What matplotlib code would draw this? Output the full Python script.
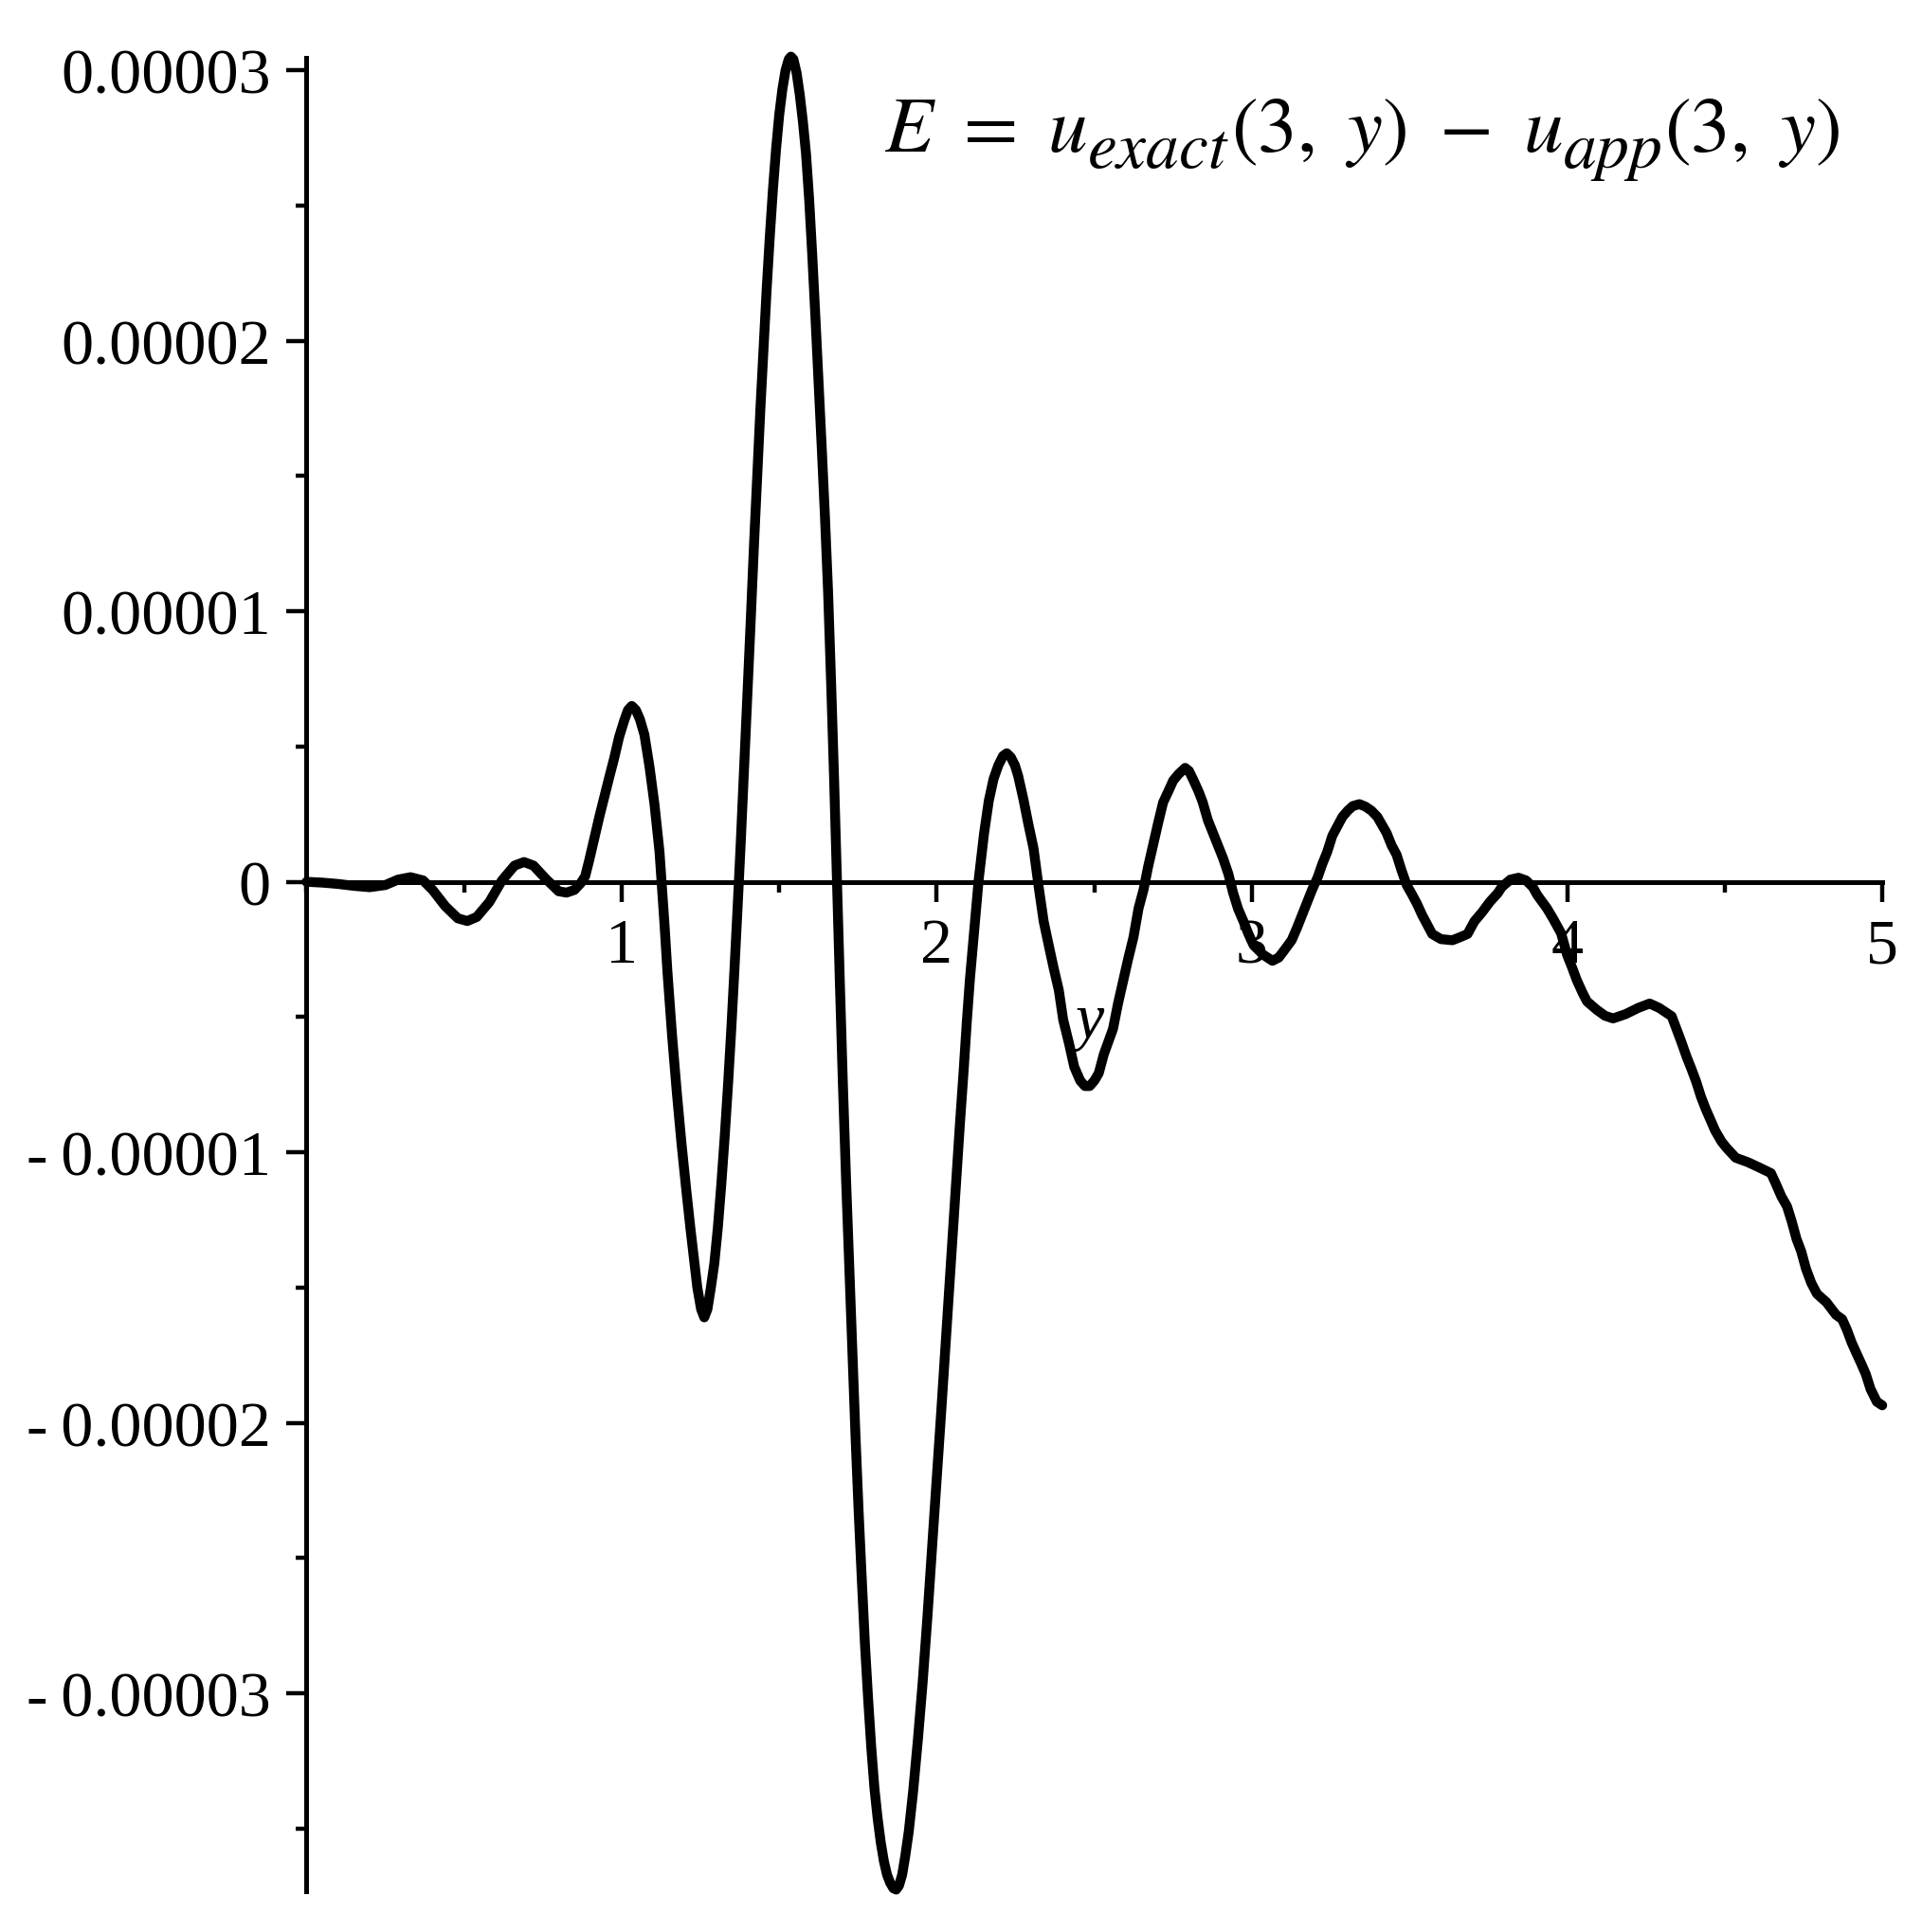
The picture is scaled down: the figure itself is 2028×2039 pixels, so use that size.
import numpy as np
import matplotlib
matplotlib.use('Agg')
import matplotlib.pyplot as plt
from matplotlib.ticker import FixedLocator, FixedFormatter, MultipleLocator

# Du lieu doc tu hinh: y va sai so E (don vi 1e-5)
y_vals = [0.00, 0.05, 0.10, 0.15, 0.20, 0.25, 0.29, 0.33, 0.37, 0.40,
          0.44, 0.48, 0.51, 0.54, 0.58, 0.62, 0.66, 0.69, 0.72, 0.76,
          0.80, 0.825, 0.85, 0.87, 0.884, 0.897, 0.913, 0.929, 0.944, 0.960,
          0.976, 0.992, 1.008, 1.020, 1.032, 1.045, 1.058, 1.072, 1.088, 1.104,
          1.120, 1.136, 1.145, 1.160, 1.175, 1.190, 1.205, 1.218, 1.231, 1.240,
          1.252, 1.262, 1.272, 1.283, 1.294, 1.305, 1.316, 1.327, 1.338, 1.348,
          1.358, 1.368, 1.378, 1.390, 1.400, 1.410, 1.420, 1.430, 1.440, 1.450,
          1.460, 1.470, 1.480, 1.490, 1.500, 1.510, 1.520, 1.530, 1.537, 1.545,
          1.555, 1.565, 1.575, 1.585, 1.595, 1.605, 1.615, 1.625, 1.635, 1.645,
          1.655, 1.665, 1.674, 1.682, 1.692, 1.702, 1.712, 1.722, 1.732, 1.742,
          1.752, 1.762, 1.772, 1.782, 1.792, 1.802, 1.812, 1.822, 1.832, 1.842,
          1.852, 1.862, 1.871, 1.880, 1.890, 1.900, 1.911, 1.925, 1.940, 1.955,
          1.970, 1.985, 2.000, 2.015, 2.030, 2.045, 2.060, 2.073, 2.085, 2.095,
          2.105, 2.117, 2.133, 2.150, 2.165, 2.180, 2.195, 2.210, 2.222, 2.235,
          2.248, 2.258, 2.275, 2.290, 2.307, 2.323, 2.339, 2.355, 2.371, 2.387,
          2.401, 2.420, 2.436, 2.455, 2.470, 2.485, 2.500, 2.514, 2.530, 2.559,
          2.575, 2.591, 2.607, 2.624, 2.640, 2.656, 2.670, 2.686, 2.702, 2.718,
          2.734, 2.750, 2.767, 2.788, 2.800, 2.815, 2.831, 2.844, 2.860, 2.876,
          2.892, 2.908, 2.925, 2.940, 2.956, 2.973, 2.989, 3.005, 3.035, 3.065,
          3.085, 3.100, 3.126, 3.143, 3.159, 3.175, 3.191, 3.209, 3.223, 3.239,
          3.255, 3.271, 3.287, 3.304, 3.320, 3.341, 3.360, 3.379, 3.398, 3.427,
          3.443, 3.459, 3.475, 3.491, 3.508, 3.524, 3.540, 3.556, 3.572, 3.600,
          3.636, 3.660, 3.684, 3.706, 3.730, 3.755, 3.780, 3.793, 3.820, 3.846,
          3.870, 3.891, 3.906, 3.936, 3.956, 3.981, 4.000, 4.016, 4.031, 4.049,
          4.063, 4.094, 4.120, 4.146, 4.186, 4.226, 4.262, 4.292, 4.332, 4.347,
          4.362, 4.379, 4.395, 4.410, 4.425, 4.440, 4.455, 4.470, 4.490, 4.505,
          4.535, 4.575, 4.617, 4.647, 4.662, 4.680, 4.698, 4.713, 4.728, 4.743,
          4.758, 4.775, 4.793, 4.823, 4.853, 4.873, 4.888, 4.903, 4.918, 4.933,
          4.948, 4.963, 4.983, 5.000]
E_vals = [0.000, -0.003, -0.008, -0.015, -0.020, -0.012, 0.008, 0.017, 0.005, -0.030,
          -0.090, -0.135, -0.145, -0.130, -0.075, 0.005, 0.060, 0.073, 0.060, 0.010,
          -0.035, -0.040, -0.030, -0.005, 0.020, 0.080, 0.160, 0.240, 0.310, 0.384,
          0.456, 0.536, 0.596, 0.635, 0.650, 0.635, 0.600, 0.544, 0.427, 0.287,
          0.111, -0.160, -0.330, -0.570, -0.780, -0.970, -1.140, -1.280, -1.410, -1.500,
          -1.580, -1.610, -1.580, -1.500, -1.410, -1.280, -1.120, -0.940, -0.740, -0.540,
          -0.320, -0.090, 0.150, 0.460, 0.720, 0.980, 1.250, 1.500, 1.745, 1.970,
          2.190, 2.385, 2.560, 2.710, 2.836, 2.930, 3.000, 3.040, 3.050, 3.040,
          2.990, 2.910, 2.810, 2.690, 2.520, 2.310, 2.080, 1.840, 1.600, 1.350,
          1.070, 0.720, 0.380, 0.050, -0.360, -0.750, -1.100, -1.420, -1.750, -2.050,
          -2.330, -2.580, -2.820, -3.020, -3.200, -3.350, -3.460, -3.550, -3.620, -3.670,
          -3.700, -3.720, -3.725, -3.710, -3.670, -3.600, -3.510, -3.360, -3.170, -2.960,
          -2.720, -2.460, -2.200, -1.940, -1.670, -1.400, -1.130, -0.900, -0.700, -0.520,
          -0.360, -0.200, 0.010, 0.180, 0.300, 0.380, 0.430, 0.465, 0.475, 0.460,
          0.430, 0.392, 0.304, 0.216, 0.123, -0.017, -0.146, -0.234, -0.320, -0.400,
          -0.510, -0.600, -0.684, -0.735, -0.755, -0.755, -0.735, -0.707, -0.637, -0.544,
          -0.450, -0.368, -0.286, -0.205, -0.099, -0.029, 0.053, 0.135, 0.216, 0.293,
          0.333, 0.374, 0.398, 0.421, 0.410, 0.374, 0.333, 0.293, 0.228, 0.181,
          0.135, 0.088, 0.030, -0.040, -0.100, -0.146, -0.193, -0.234, -0.269, -0.292,
          -0.280, -0.257, -0.216, -0.170, -0.123, -0.076, -0.029, 0.018, 0.065, 0.111,
          0.170, 0.205, 0.240, 0.263, 0.280, 0.287, 0.278, 0.263, 0.240, 0.181,
          0.135, 0.100, 0.041, -0.012, -0.047, -0.082, -0.123, -0.158, -0.193, -0.212,
          -0.216, -0.205, -0.193, -0.146, -0.113, -0.074, -0.042, -0.019, 0.008, 0.015,
          0.005, -0.019, -0.050, -0.098, -0.137, -0.190, -0.270, -0.317, -0.364, -0.410,
          -0.442, -0.473, -0.495, -0.505, -0.489, -0.466, -0.450, -0.466, -0.497, -0.544,
          -0.590, -0.646, -0.693, -0.740, -0.795, -0.840, -0.880, -0.920, -0.960, -0.982,
          -1.020, -1.037, -1.060, -1.077, -1.115, -1.163, -1.200, -1.256, -1.320, -1.366,
          -1.430, -1.483, -1.523, -1.554, -1.600, -1.617, -1.656, -1.703, -1.742, -1.780,
          -1.820, -1.875, -1.922, -1.935]

xtick_vals = [1, 2, 3, 4, 5]
xtick_labels = ['1', '2', '3', '4', '5']
ytick_vals = [-3e-5, -2e-5, -1e-5, 0, 1e-5, 2e-5, 3e-5]
ytick_labels = ['-\u20090.00003', '-\u20090.00002', '-\u20090.00001', '0',
                '0.00001', '0.00002', '0.00003']

# cong thuc: (chuoi, co chu, chi so duoi?)
formula_parts = [(r'$E\,\,=\,\,u$', 60, False),
                 (r'$exact$', 50, True),
                 (r'$(3,\ y)\,\,-\,\,u$', 60, False),
                 (r'$app$', 50, True),
                 (r'$(3,\ y)$', 60, False)]

E = np.array(E_vals) * 1e-5

plt.rcParams['mathtext.fontset'] = 'stix'
serif = ['Liberation Serif', 'DejaVu Serif']

# Ve bieu do
fig = plt.figure(figsize=(20.28, 20.40), dpi=100)
ax = fig.add_axes([0.1595, 0.0211, 0.8198, 0.9487])
ax.plot(y_vals, E, color='black', linewidth=7.5, clip_on=False,
        solid_joinstyle='round', solid_capstyle='round', zorder=3)

ax.set_xlim(0, 5)
ax.set_ylim(-3.731e-5, 3.047e-5)

# truc kieu Maple: truc x di qua 0
ax.spines['top'].set_visible(False)
ax.spines['right'].set_visible(False)
ax.spines['bottom'].set_position(('data', 0))
ax.spines['left'].set_linewidth(3.6)
ax.spines['bottom'].set_linewidth(3.6)

ax.xaxis.set_major_locator(FixedLocator(xtick_vals))
ax.xaxis.set_major_formatter(FixedFormatter(xtick_labels))
ax.xaxis.set_minor_locator(MultipleLocator(0.5))
ax.yaxis.set_major_locator(FixedLocator(ytick_vals))
ax.yaxis.set_major_formatter(FixedFormatter(ytick_labels))
ax.yaxis.set_minor_locator(MultipleLocator(0.5e-5))

ax.tick_params(which='major', length=15, width=3.2, direction='out', labelsize=49)
ax.tick_params(which='minor', length=8, width=3.2, direction='out')
ax.tick_params(axis='x', which='major', pad=12)
ax.tick_params(axis='y', which='major', pad=12)
for lab in ax.get_xticklabels() + ax.get_yticklabels():
    lab.set_family(serif)

ax.set_xlabel('y', family=serif, style='italic', fontsize=49)
ax.xaxis.set_label_coords(0.497, 0.49)

# dat tung manh cua cong thuc, noi tiep nhau
renderer = fig.canvas.get_renderer()
x_px = 933
base_px = 2040 - 160
for s, size, is_sub in formula_parts:
    yy = base_px - 17 if is_sub else base_px
    t = fig.text(x_px / 2028, yy / 2040, s, fontsize=size, ha='left', va='baseline')
    x_px = t.get_window_extent(renderer).x1 + (2 if is_sub else 0)

fig.savefig('out.png', dpi=100, facecolor='white')
